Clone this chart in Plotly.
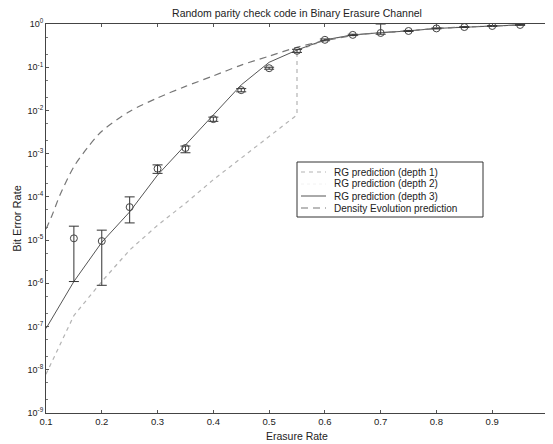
import plotly.graph_objects as go

# ---- data ----
# simulation points with error bars
sim_x = [0.15, 0.2, 0.25, 0.3, 0.35, 0.4, 0.45, 0.5, 0.55, 0.6, 0.65, 0.7, 0.75, 0.8, 0.85, 0.9, 0.95]
sim_y = [1.1e-5, 9.5e-6, 5.8e-5, 4.5e-4, 1.35e-3, 6.3e-3, 0.0295, 0.095, 0.24, 0.43, 0.56, 0.62, 0.69, 0.79, 0.85, 0.9, 0.95]
sim_hi = [2.1e-5, 1.7e-5, 1.0e-4, 5.5e-4, 1.5e-3, 7.0e-3, 0.032, 0.1, 0.26, 0.45, 0.58, 1.0, 0.71, 0.81, 0.87, 0.92, 0.97]
sim_lo = [1.1e-6, 9.0e-7, 2.5e-5, 3.5e-4, 1.05e-3, 5.6e-3, 0.027, 0.09, 0.22, 0.41, 0.54, 0.58, 0.67, 0.77, 0.83, 0.88, 0.93]

# RG prediction (depth 3) - solid
rg3_x = [0.1, 0.15, 0.2, 0.25, 0.3, 0.35, 0.4, 0.45, 0.5, 0.55, 0.6, 0.65, 0.7, 0.75, 0.8, 0.85, 0.9, 0.95]
rg3_y = [9e-8, 1.1e-6, 8.9e-6, 4.5e-5, 3.2e-4, 1.6e-3, 7.9e-3, 0.039, 0.13, 0.25, 0.43, 0.56, 0.63, 0.69, 0.79, 0.85, 0.9, 0.95]

# RG prediction (depth 1) - light dashed, lower curve with jump at 0.55
rg1_x = [0.1, 0.15, 0.2, 0.25, 0.3, 0.35, 0.4, 0.45, 0.5, 0.55, 0.55, 0.6, 0.65, 0.7, 0.75, 0.8, 0.85, 0.9, 0.95]
rg1_y = [7.9e-9, 1.8e-7, 1.1e-6, 5.9e-6, 2.2e-5, 7.1e-5, 2.5e-4, 7.9e-4, 2.5e-3, 7.9e-3, 0.24, 0.42, 0.56, 0.63, 0.69, 0.79, 0.85, 0.9, 0.95]

# Density Evolution prediction - dashed, upper curve
de_x = [0.1, 0.11, 0.125, 0.15, 0.175, 0.2, 0.25, 0.3, 0.35, 0.4, 0.45, 0.5, 0.55, 0.6, 0.65, 0.7, 0.75, 0.8, 0.85, 0.9, 0.95]
de_y = [1.8e-5, 3.5e-5, 1.1e-4, 5.0e-4, 1.4e-3, 3.3e-3, 9.5e-3, 0.0195, 0.036, 0.063, 0.112, 0.18, 0.29, 0.41, 0.54, 0.63, 0.69, 0.79, 0.85, 0.9, 0.95]

y_tickvals = [1e-9, 1e-8, 1e-7, 1e-6, 1e-5, 1e-4, 1e-3, 1e-2, 1e-1, 1]
y_ticktext = ["10<sup>-9</sup>", "10<sup>-8</sup>", "10<sup>-7</sup>", "10<sup>-6</sup>", "10<sup>-5</sup>",
              "10<sup>-4</sup>", "10<sup>-3</sup>", "10<sup>-2</sup>", "10<sup>-1</sup>", "10<sup>0</sup>"]
x_tickvals = [0.1, 0.2, 0.3, 0.4, 0.5, 0.6, 0.7, 0.8, 0.9]
x_ticktext = ["0.1", "0.2", "0.3", "0.4", "0.5", "0.6", "0.7", "0.8", "0.9"]

legend_names = ["RG prediction (depth 1)", "RG prediction (depth 2)",
                "RG prediction (depth 3)", "Density Evolution prediction"]

FONT = "Liberation Sans, Arial, sans-serif"
C_RG1 = "#b4b4b4"
C_RG2 = "#f2f2f2"
C_RG3 = "#555555"
C_DE = "#777777"
D_RG1 = "4px,4px"
D_RG2 = "dot"
D_DE = "7px,5px"

# page has an 8px body margin: figure sized/positioned to fill the 553x444 window
OFF = 8
W, H = 553 - OFF, 444 - OFF
# plot-area edges in window pixels
WL, WR, WT, WB = 46, 548, 24, 413
PL, PR, PT, PB = WL - OFF, WR - OFF, WT - OFF, WB - OFF


def px_x(p):
    return (p - OFF - PL) / (PR - PL)


def px_y(p):
    return (PB - (p - OFF)) / (PB - PT)


fig = go.Figure()

fig.add_trace(go.Scatter(x=rg1_x, y=rg1_y, mode="lines", name=legend_names[0], showlegend=False,
                         line=dict(color=C_RG1, width=1.2, dash=D_RG1)))
fig.add_trace(go.Scatter(x=rg3_x, y=rg3_y, mode="lines", name=legend_names[2], showlegend=False,
                         line=dict(color=C_RG3, width=1)))
fig.add_trace(go.Scatter(x=de_x, y=de_y, mode="lines", name=legend_names[3], showlegend=False,
                         line=dict(color=C_DE, width=1.2, dash=D_DE, shape="spline", smoothing=0.8)))

err_plus = [h - y for h, y in zip(sim_hi, sim_y)]
err_minus = [y - l for y, l in zip(sim_y, sim_lo)]
fig.add_trace(go.Scatter(x=sim_x, y=sim_y, mode="markers", showlegend=False, name="simulation",
                         marker=dict(symbol="circle-open", size=7, color="#444444", line=dict(width=1)),
                         error_y=dict(type="data", symmetric=False, array=err_plus, arrayminus=err_minus,
                                      color="#333333", thickness=1, width=5)))

# ---- legend box (MATLAB-style compact legend) ----
box = dict(x0=297, x1=483, y0=162, y1=217)
fig.add_shape(type="rect", xref="paper", yref="paper",
              x0=px_x(box["x0"]), x1=px_x(box["x1"]), y0=px_y(box["y1"]), y1=px_y(box["y0"]),
              line=dict(color="#333333", width=1), fillcolor="white", layer="above")
row_y = [172, 184, 196, 208]
styles = [(C_RG1, D_RG1, 1.2), (C_RG2, D_RG2, 1), (C_RG3, "solid", 1), (C_DE, D_DE, 1.2)]
for name, yy, (col, dsh, w) in zip(legend_names, row_y, styles):
    fig.add_shape(type="line", xref="paper", yref="paper",
                  x0=px_x(301), x1=px_x(326), y0=px_y(yy), y1=px_y(yy),
                  line=dict(color=col, width=w, dash=dsh), layer="above")
    fig.add_annotation(text=name, xref="paper", yref="paper", x=px_x(332), y=px_y(yy),
                       xanchor="left", yanchor="middle", showarrow=False,
                       font=dict(family=FONT, size=10, color="#222222"))

# x-axis title placed just under the tick labels
fig.add_annotation(text="Erasure Rate", xref="paper", yref="paper", x=0.5, y=px_y(436),
                   xanchor="center", yanchor="middle", showarrow=False,
                   font=dict(family=FONT, size=10.5, color="#222222"))

fig.update_layout(
    width=W, height=H,
    margin=dict(l=PL, r=W - PR, t=PT, b=H - PB, autoexpand=False),
    paper_bgcolor="white", plot_bgcolor="white",
    font=dict(family=FONT, size=9, color="#222222"),
    title=dict(text="Random parity check code in Binary Erasure Channel", x=0.5, xref="paper",
               y=1 - (13 - OFF) / H, yref="container", yanchor="middle", xanchor="center",
               font=dict(family=FONT, size=10.5, color="#222222")),
    showlegend=False,
)

fig.update_xaxes(type="linear", range=[0.1, 1.0], tickvals=x_tickvals, ticktext=x_ticktext,
                 ticks="inside", ticklen=3, tickcolor="#555555", showline=True, linecolor="#444444",
                 linewidth=1, mirror="allticks", showgrid=False, zeroline=False,
                 tickfont=dict(family=FONT, size=9.5),
                 automargin=False)
fig.update_yaxes(type="log", range=[-9, 0], tickvals=y_tickvals, ticktext=y_ticktext,
                 ticks="inside", ticklen=3, tickcolor="#555555", showline=True, linecolor="#444444",
                 linewidth=1, mirror="allticks", showgrid=False, zeroline=False,
                 tickfont=dict(family=FONT, size=9),
                 minor=dict(ticks="inside", ticklen=2, tickcolor="#777777", showgrid=False),
                 title=dict(text="Bit Error Rate", standoff=3, font=dict(family=FONT, size=11)),
                 automargin=False)

fig.write_html("out.html")
